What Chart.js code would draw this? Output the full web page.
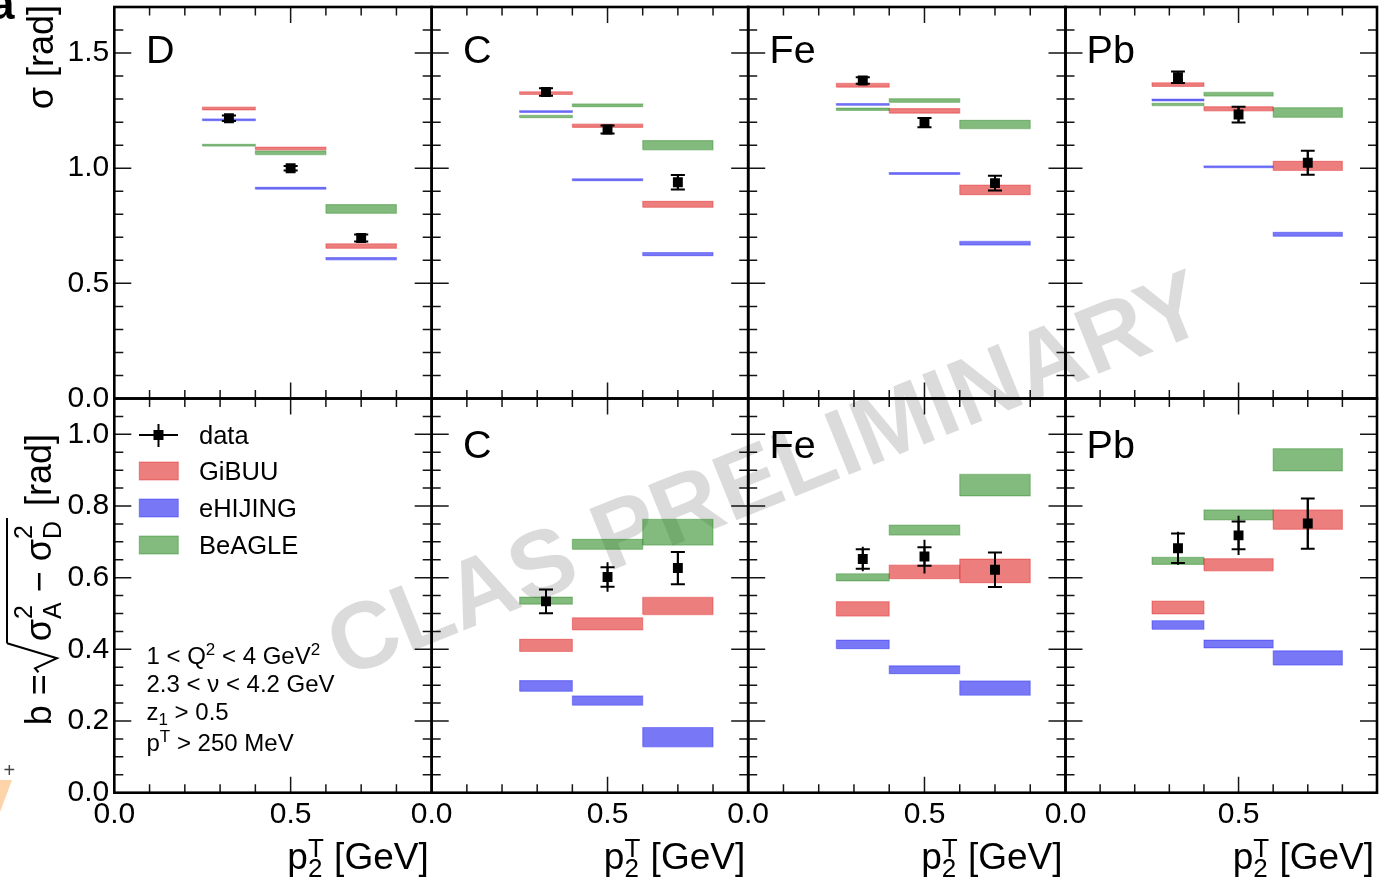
<!DOCTYPE html>
<html>
<head>
<meta charset="utf-8">
<title>Azimuthal correlation widths and broadening</title>
<script src="https://cdn.jsdelivr.net/npm/chart.js@4.4.0/dist/chart.umd.min.js"></script>
<style>
  html, body { margin: 0; padding: 0; background: #fff; }
  #fig { position: relative; width: 1384px; height: 881px; overflow: hidden; background: #fff; }
  #fig canvas { position: absolute; left: 0; top: 0; }
</style>
</head>
<body>
<div id="fig"></div>
<script>
// ---------------- values ----------------
const binEdges = [0.25, 0.40, 0.60, 0.80];     // p2T bins [GeV]
const pointX   = [0.325, 0.50, 0.70];          // data point positions [GeV]

const xTickLabels     = ['0.0', '0.5'];
const sigmaTickLabels = ['0.0', '0.5', '1.0', '1.5'];
const bTickLabels     = ['0.0', '0.2', '0.4', '0.6', '0.8', '1.0'];
const legendLabels    = ['data', 'GiBUU', 'eHIJING', 'BeAGLE'];

// sigma [rad] : widths
const sigmaD_data  = [1.217, 1.000, 0.697];
const sigmaD_err   = [0.012, 0.010, 0.015];
const sigmaD_GiBUU = [1.259, 1.086, 0.662], sigmaD_GiBUUErr = [0.006, 0.006, 0.010];
const sigmaD_eHIJING = [1.210, 0.913, 0.607], sigmaD_eHIJINGErr = [0.004, 0.004, 0.005];
const sigmaD_BeAGLE = [1.100, 1.067, 0.823], sigmaD_BeAGLEErr = [0.004, 0.008, 0.019];

const sigmaC_data  = [1.331, 1.168, 0.939];
const sigmaC_err   = [0.016, 0.017, 0.031];
const sigmaC_GiBUU = [1.326, 1.184, 0.843], sigmaC_GiBUUErr = [0.006, 0.007, 0.013];
const sigmaC_eHIJING = [1.246, 0.950, 0.627], sigmaC_eHIJINGErr = [0.004, 0.004, 0.007];
const sigmaC_BeAGLE = [1.224, 1.273, 1.100], sigmaC_BeAGLEErr = [0.005, 0.006, 0.020];

const sigmaFe_data  = [1.381, 1.198, 0.935];
const sigmaFe_err   = [0.014, 0.020, 0.032];
const sigmaFe_GiBUU = [1.360, 1.249, 0.906], sigmaFe_GiBUUErr = [0.008, 0.010, 0.021];
const sigmaFe_eHIJING = [1.277, 0.977, 0.674], sigmaFe_eHIJINGErr = [0.004, 0.004, 0.008];
const sigmaFe_BeAGLE = [1.256, 1.294, 1.190], sigmaFe_BeAGLEErr = [0.005, 0.008, 0.018];

const sigmaPb_data  = [1.395, 1.233, 1.024];
const sigmaPb_err   = [0.025, 0.034, 0.052];
const sigmaPb_GiBUU = [1.363, 1.258, 1.010], sigmaPb_GiBUUErr = [0.008, 0.009, 0.020];
const sigmaPb_eHIJING = [1.296, 1.006, 0.713], sigmaPb_eHIJINGErr = [0.004, 0.004, 0.009];
const sigmaPb_BeAGLE = [1.277, 1.321, 1.242], sigmaPb_BeAGLEErr = [0.005, 0.008, 0.021];

// b [rad] : broadening relative to D (stat errors with caps, total without)
const bC_data = [0.534, 0.602, 0.627];
const bC_stat = [0.033, 0.027, 0.045];
const bC_tot  = [0.033, 0.041, 0.045];
const bC_GiBUU = [0.411, 0.471, 0.521], bC_GiBUUErr = [0.017, 0.017, 0.024];
const bC_eHIJING = [0.298, 0.257, 0.155], bC_eHIJINGErr = [0.015, 0.013, 0.027];
const bC_BeAGLE = [0.536, 0.693, 0.727], bC_BeAGLEErr = [0.010, 0.014, 0.036];

const bFe_data = [0.652, 0.659, 0.622];
const bFe_stat = [0.027, 0.026, 0.048];
const bFe_tot  = [0.034, 0.047, 0.048];
const bFe_GiBUU = [0.513, 0.616, 0.619], bFe_GiBUUErr = [0.020, 0.019, 0.033];
const bFe_eHIJING = [0.414, 0.343, 0.292], bFe_eHIJINGErr = [0.012, 0.011, 0.020];
const bFe_BeAGLE = [0.601, 0.733, 0.858], bFe_BeAGLEErr = [0.010, 0.014, 0.030];

const bPb_data = [0.682, 0.718, 0.751];
const bPb_stat = [0.041, 0.039, 0.070];
const bPb_tot  = [0.046, 0.055, 0.070];
const bPb_GiBUU = [0.517, 0.636, 0.762], bPb_GiBUUErr = [0.018, 0.017, 0.027];
const bPb_eHIJING = [0.468, 0.415, 0.376], bPb_eHIJINGErr = [0.012, 0.011, 0.020];
const bPb_BeAGLE = [0.647, 0.775, 0.929], bPb_BeAGLEErr = [0.010, 0.014, 0.031];

// ---------------- layout & style ----------------
const W = 1384, H = 881;
const FONT = '"Liberation Sans", Arial, Helvetica, sans-serif';
const font = (size, bold) => (bold ? 'bold ' : '') + size + 'px ' + FONT;
const colX = [114.3, 431.7, 748.2, 1065.5, 1383];
const rowY = [4.5, 398.5, 792.7];
const yMaxRow = [1.7, 1.1];
const yMinorStep = [0.1, 0.05];
const labelOffset = { D: 31.6, C: 31.3, Fe: 21.4, Pb: 21.1 };
const labelBaseline = [63.3, 457.5];
const TICK_FONT = 30;

const modelFill = ['rgba(220,20,20,0.55)', 'rgba(30,30,240,0.6)', 'rgba(30,130,20,0.55)'];
const modelLine = ['rgba(220,20,20,0.35)', 'rgba(30,30,240,0.35)', 'rgba(30,130,20,0.35)'];

const panels = [
  { row: 0, col: 0, label: 'D', data: sigmaD_data, stat: sigmaD_err, tot: sigmaD_err,
    models: [[sigmaD_GiBUU, sigmaD_GiBUUErr], [sigmaD_eHIJING, sigmaD_eHIJINGErr], [sigmaD_BeAGLE, sigmaD_BeAGLEErr]] },
  { row: 0, col: 1, label: 'C', data: sigmaC_data, stat: sigmaC_err, tot: sigmaC_err,
    models: [[sigmaC_GiBUU, sigmaC_GiBUUErr], [sigmaC_eHIJING, sigmaC_eHIJINGErr], [sigmaC_BeAGLE, sigmaC_BeAGLEErr]] },
  { row: 0, col: 2, label: 'Fe', data: sigmaFe_data, stat: sigmaFe_err, tot: sigmaFe_err,
    models: [[sigmaFe_GiBUU, sigmaFe_GiBUUErr], [sigmaFe_eHIJING, sigmaFe_eHIJINGErr], [sigmaFe_BeAGLE, sigmaFe_BeAGLEErr]] },
  { row: 0, col: 3, label: 'Pb', data: sigmaPb_data, stat: sigmaPb_err, tot: sigmaPb_err,
    models: [[sigmaPb_GiBUU, sigmaPb_GiBUUErr], [sigmaPb_eHIJING, sigmaPb_eHIJINGErr], [sigmaPb_BeAGLE, sigmaPb_BeAGLEErr]] },
  { row: 1, col: 0, legend: true },
  { row: 1, col: 1, label: 'C', data: bC_data, stat: bC_stat, tot: bC_tot,
    models: [[bC_GiBUU, bC_GiBUUErr], [bC_eHIJING, bC_eHIJINGErr], [bC_BeAGLE, bC_BeAGLEErr]] },
  { row: 1, col: 2, label: 'Fe', data: bFe_data, stat: bFe_stat, tot: bFe_tot,
    models: [[bFe_GiBUU, bFe_GiBUUErr], [bFe_eHIJING, bFe_eHIJINGErr], [bFe_BeAGLE, bFe_BeAGLEErr]] },
  { row: 1, col: 3, label: 'Pb', data: bPb_data, stat: bPb_stat, tot: bPb_tot,
    models: [[bPb_GiBUU, bPb_GiBUUErr], [bPb_eHIJING, bPb_eHIJINGErr], [bPb_BeAGLE, bPb_BeAGLEErr]] }
];

// ---------------- text helpers ----------------
function measureParts(ctx, parts) {
  let w = 0;
  for (const p of parts) {
    if (p.sqrtOpen) { w += 33; continue; }
    if (p.sqrtClose) { w += 5; continue; }
    if (p.stack) {
      let m = 0;
      for (const s of p.stack) { ctx.font = font(s.size); m = Math.max(m, ctx.measureText(s.t).width); }
      w += m;
    } else { ctx.font = font(p.size); w += ctx.measureText(p.t).width; }
  }
  return w;
}

function drawParts(ctx, x, y, parts) {
  let cx = x, rootStart = 0;
  ctx.textAlign = 'left';
  ctx.textBaseline = 'alphabetic';
  for (const p of parts) {
    if (p.sqrtOpen) {
      ctx.beginPath();
      ctx.moveTo(cx + 2, y - 12);
      ctx.lineTo(cx + 6, y - 15.5);
      ctx.lineTo(cx + 16, y + 6.5);
      ctx.lineTo(cx + 31, y - 43.5);
      ctx.stroke();
      rootStart = cx + 31;
      cx += 33;
      continue;
    }
    if (p.sqrtClose) {
      ctx.beginPath();
      ctx.moveTo(rootStart, y - 43.5);
      ctx.lineTo(cx + 3, y - 43.5);
      ctx.stroke();
      cx += 5;
      continue;
    }
    if (p.stack) {
      let m = 0;
      for (const s of p.stack) {
        ctx.font = font(s.size);
        ctx.fillText(s.t, cx, y + s.dy);
        m = Math.max(m, ctx.measureText(s.t).width);
      }
      cx += m;
    } else {
      ctx.font = font(p.size);
      ctx.fillText(p.t, cx, y + (p.dy || 0));
      cx += ctx.measureText(p.t).width;
    }
  }
  return cx;
}

function drawWatermark(ctx) {
  ctx.save();
  ctx.translate(765, 472);
  ctx.rotate(-22 * Math.PI / 180);
  ctx.font = font(95, true);
  ctx.fillStyle = 'rgba(0,0,0,0.14)';
  ctx.textAlign = 'center';
  ctx.textBaseline = 'alphabetic';
  ctx.fillText('CLAS PRELIMINARY', 0, 34);
  ctx.restore();
}

function drawSigmaTitle(ctx) {
  ctx.save();
  ctx.translate(52.5, 5);
  ctx.rotate(-Math.PI / 2);
  ctx.fillStyle = '#000';
  ctx.font = font(36);
  ctx.textAlign = 'right';
  ctx.textBaseline = 'alphabetic';
  ctx.fillText('σ [rad]', 0, 0);
  ctx.restore();
}

function drawBTitle(ctx) {
  const F = 36, S = 25;
  const parts = [
    { t: 'b =', size: F },
    { sqrtOpen: true },
    { t: 'σ', size: F }, { stack: [{ t: '2', size: S, dy: -19 }, { t: 'A', size: S, dy: 10 }] },
    { t: ' − ', size: F },
    { t: 'σ', size: F }, { stack: [{ t: '2', size: S, dy: -19 }, { t: 'D', size: S, dy: 10 }] },
    { sqrtClose: true },
    { t: ' [rad]', size: F }
  ];
  ctx.save();
  ctx.translate(50.5, 0);
  ctx.rotate(-Math.PI / 2);
  ctx.fillStyle = '#000';
  ctx.strokeStyle = '#000';
  ctx.lineWidth = 2;
  const w = measureParts(ctx, parts);
  drawParts(ctx, -434 - w, 0, parts);
  ctx.restore();
}

function drawXTitle(ctx, right) {
  const parts = [
    { t: 'p', size: 37 },
    { stack: [{ t: 'T', size: 26, dy: -12.5 }, { t: '2', size: 26, dy: 8 }] },
    { t: ' [GeV]', size: 37 }
  ];
  ctx.save();
  ctx.fillStyle = '#000';
  const w = measureParts(ctx, parts);
  drawParts(ctx, right - w, 869, parts);
  ctx.restore();
}

function drawLegend(ctx) {
  const rows = [435, 471, 508, 545];
  ctx.save();
  // data entry: marker with error cross
  ctx.strokeStyle = '#000';
  ctx.lineWidth = 2;
  ctx.beginPath();
  ctx.moveTo(139, rows[0]); ctx.lineTo(178, rows[0]);
  ctx.moveTo(158.5, rows[0] - 11); ctx.lineTo(158.5, rows[0] + 12);
  ctx.stroke();
  ctx.fillStyle = '#000';
  ctx.fillRect(153.5, rows[0] - 5, 10, 10);
  // model boxes
  for (let m = 0; m < 3; m++) {
    const yc = rows[m + 1];
    ctx.fillStyle = modelFill[m];
    ctx.fillRect(139.3, yc - 9, 39, 18);
    ctx.strokeStyle = modelLine[m];
    ctx.lineWidth = 1.2;
    ctx.strokeRect(139.3, yc - 9, 39, 18);
  }
  ctx.fillStyle = '#000';
  ctx.font = font(25.5);
  ctx.textAlign = 'left';
  ctx.textBaseline = 'alphabetic';
  legendLabels.forEach((t, i) => ctx.fillText(t, 199, rows[i] + 9));

  // kinematic selection
  const S = 24, s = 17;
  const lines = [
    [{ t: '1 < Q', size: S }, { t: '2', size: s, dy: -9.5 }, { t: ' < 4 GeV', size: S }, { t: '2', size: s, dy: -9.5 }],
    [{ t: '2.3 < ν < 4.2 GeV', size: S }],
    [{ t: 'z', size: S }, { t: '1', size: s, dy: 5 }, { t: ' > 0.5', size: S }],
    [{ t: 'p', size: S }, { t: 'T', size: s, dy: -9.5 }, { t: ' > 250 MeV', size: S }]
  ];
  const baselines = [664, 691.5, 720, 751];
  lines.forEach((parts, i) => drawParts(ctx, 146.5, baselines[i], parts));

  // fragments of neighbouring artwork at the left edge
  ctx.fillStyle = 'rgba(252,196,140,0.75)';
  ctx.beginPath();
  ctx.moveTo(0, 780); ctx.lineTo(12, 780); ctx.lineTo(0, 812); ctx.closePath();
  ctx.fill();
  ctx.fillStyle = '#444';
  ctx.font = font(20);
  ctx.fillText('+', 3.5, 777);
  ctx.restore();
}

function minorValues(max, step) {
  const out = [];
  for (let k = 1; k * step < max - 1e-6; k++) out.push(+(k * step).toFixed(4));
  return out;
}

function drawFrame(chart, panel) {
  const ctx = chart.ctx, a = chart.chartArea;
  const xs = chart.scales.x, ys = chart.scales.y;
  const xMajor = xTickLabels.map(parseFloat);
  const yMajor = (panel.row === 0 ? sigmaTickLabels : bTickLabels).map(parseFloat);
  const isMajor = (list, v) => list.some(m => Math.abs(m - v) < 1e-6);
  ctx.save();
  ctx.strokeStyle = '#151515';
  ctx.lineWidth = 1.5;
  ctx.beginPath();
  for (const v of minorValues(0.9, 0.1)) {
    const len = isMajor(xMajor, v) ? 16 : 8.5;
    const px = xs.getPixelForValue(v);
    ctx.moveTo(px, a.bottom); ctx.lineTo(px, a.bottom - len);
    ctx.moveTo(px, a.top); ctx.lineTo(px, a.top + len);
  }
  for (const v of minorValues(yMaxRow[panel.row], yMinorStep[panel.row])) {
    const len = isMajor(yMajor, v) ? 17 : 9;
    const py = ys.getPixelForValue(v);
    ctx.moveTo(a.left, py); ctx.lineTo(a.left + len, py);
    ctx.moveTo(a.right, py); ctx.lineTo(a.right - len, py);
  }
  ctx.stroke();
  ctx.strokeStyle = '#000';
  ctx.lineWidth = 2.6;
  ctx.strokeRect(a.left, a.top, a.right - a.left, a.bottom - a.top);
  ctx.restore();
}

// ---------------- datasets ----------------
function buildDatasets(p) {
  const ds = [];
  if (!p.models) return ds;
  // data markers (drawn on top)
  ds.push({
    data: pointX.map((x, i) => ({ x, y: p.data[i] })),
    showLine: false, pointStyle: 'rect', pointRadius: 7,
    pointBackgroundColor: '#000', pointBorderWidth: 0, order: 0
  });
  // total uncertainty: vertical lines
  const vert = [];
  pointX.forEach((x, i) => {
    vert.push({ x, y: p.data[i] - p.tot[i] }, { x, y: p.data[i] + p.tot[i] }, { x, y: null });
  });
  ds.push({ data: vert, borderColor: '#000', borderWidth: 2, pointRadius: 0, spanGaps: false, order: 1 });
  // statistical uncertainty: vertical lines with caps
  const caps = [];
  pointX.forEach((x, i) => {
    const lo = p.data[i] - p.stat[i], hi = p.data[i] + p.stat[i];
    caps.push({ x, y: lo }, { x, y: hi }, { x, y: null });
    caps.push({ x: x - 0.02, y: lo }, { x: x + 0.02, y: lo }, { x, y: null });
    caps.push({ x: x - 0.02, y: hi }, { x: x + 0.02, y: hi }, { x, y: null });
  });
  ds.push({ data: caps, borderColor: '#000', borderWidth: 2, pointRadius: 0, spanGaps: false, order: 1 });
  // model bands, one closed box per bin
  p.models.forEach(([vals, errs], m) => {
    vals.forEach((v, i) => {
      const x0 = binEdges[i], x1 = binEdges[i + 1];
      const lo = v - errs[i], hi = v + errs[i];
      ds.push({
        data: [{ x: x0, y: lo }, { x: x1, y: lo }, { x: x1, y: hi }, { x: x0, y: hi }, { x: x0, y: lo }],
        fill: 'shape', backgroundColor: modelFill[m], borderColor: modelLine[m],
        borderWidth: 1.2, pointRadius: 0, order: 2 + m
      });
    });
  });
  return ds;
}

// ---------------- charts ----------------
Chart.defaults.font.family = FONT;
const fig = document.getElementById('fig');

panels.forEach(p => {
  const canvas = document.createElement('canvas');
  canvas.width = W; canvas.height = H;
  fig.appendChild(canvas);
  const L = colX[p.col], R = colX[p.col + 1], T = rowY[p.row], B = rowY[p.row + 1];
  const yLabels = p.row === 0 ? sigmaTickLabels : bTickLabels;
  // the label bands of the axes take the whole margin, so the plot area lands on the panel box
  const yAxisW = p.col === 0 ? L : 0;
  const xAxisH = p.row === 1 ? H - B : 0;

  const decor = {
    id: 'panelDecor',
    beforeDatasetsDraw(chart) {
      if (p.row === 0 && p.col === 0) drawWatermark(chart.ctx);
    },
    afterDatasetsDraw(chart) {
      const ctx = chart.ctx;
      drawFrame(chart, p);
      ctx.save();
      ctx.fillStyle = '#000';
      if (p.label) {
        ctx.font = font(39.5);
        ctx.textAlign = 'left';
        ctx.textBaseline = 'alphabetic';
        ctx.fillText(p.label, chart.chartArea.left + labelOffset[p.label], labelBaseline[p.row]);
      }
      if (p.legend) drawLegend(ctx);
      if (p.col === 0 && p.row === 0) {
        drawSigmaTitle(ctx);
        // cropped heading letter in the corner
        ctx.font = font(44, true);
        ctx.textAlign = 'left';
        ctx.fillText('a', -10, 19);
      }
      if (p.col === 0 && p.row === 1) drawBTitle(ctx);
      if (p.row === 1) drawXTitle(ctx, chart.chartArea.right - 3);
      ctx.restore();
    }
  };

  new Chart(canvas, {
    type: 'line',
    data: { datasets: buildDatasets(p) },
    options: {
      responsive: false,
      animation: false,
      devicePixelRatio: 1,
      events: [],
      layout: { padding: { left: L - yAxisW, right: W - R, top: T, bottom: H - B - xAxisH } },
      plugins: { legend: { display: false }, tooltip: { enabled: false } },
      scales: {
        x: {
          type: 'linear', min: 0, max: 0.9,
          grid: { display: false, drawTicks: false },
          border: { display: false },
          ticks: {
            display: p.row === 1, autoSkip: false, maxRotation: 0, minRotation: 0, padding: 4,
            color: '#000', font: { family: FONT, size: TICK_FONT },
            callback: (v, i) => xTickLabels[i]
          },
          afterBuildTicks: s => { s.ticks = xTickLabels.map(t => ({ value: parseFloat(t) })); },
          afterFit: s => { s.height = xAxisH; s.paddingLeft = 0; s.paddingRight = 0; s.paddingTop = 0; s.paddingBottom = 0; }
        },
        y: {
          type: 'linear', min: 0, max: yMaxRow[p.row],
          grid: { display: false, drawTicks: false },
          border: { display: false },
          ticks: {
            display: p.col === 0, autoSkip: false, padding: 5,
            color: '#000', font: { family: FONT, size: TICK_FONT },
            callback: (v, i) => yLabels[i]
          },
          afterBuildTicks: s => { s.ticks = yLabels.map(t => ({ value: parseFloat(t) })); },
          afterFit: s => { s.width = yAxisW; s.paddingLeft = 0; s.paddingRight = 0; s.paddingTop = 0; s.paddingBottom = 0; }
        }
      }
    },
    plugins: [decor]
  });
});
</script>
</body>
</html>
